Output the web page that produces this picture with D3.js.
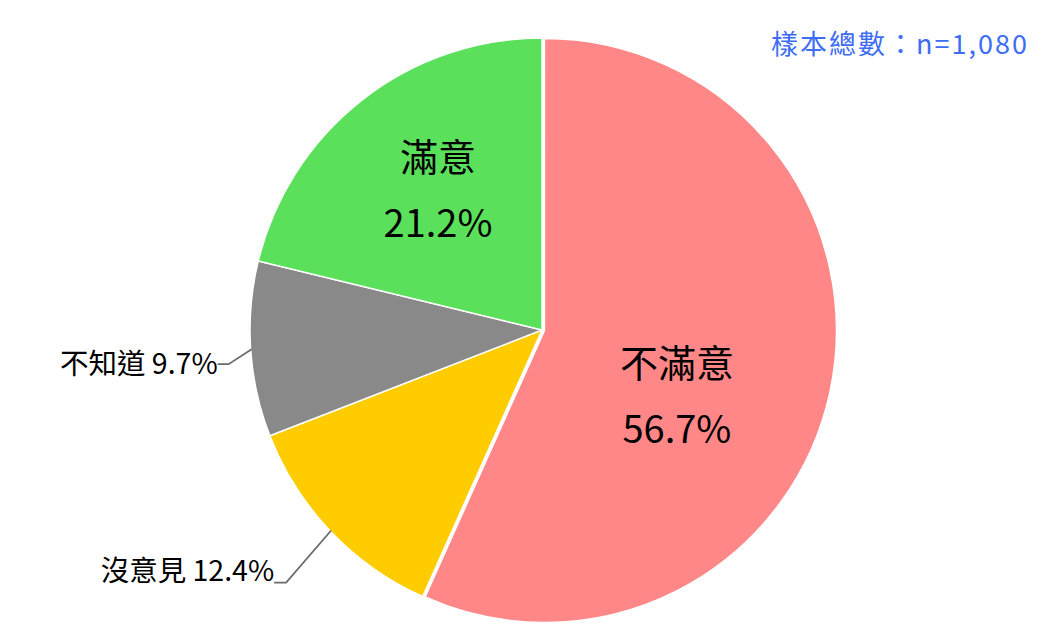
<!DOCTYPE html>
<html>
<head>
<meta charset="utf-8">
<script src="https://cdn.jsdelivr.net/npm/d3@7"></script>
<style>
  body { margin: 0; background: #fff; }
  svg { display: block; }
  text { font-family: "Noto Sans CJK TC", "Noto Sans", sans-serif; }
</style>
</head>
<body>
<div id="chart"></div>
<script>
// Data
const categories = ['不滿意', '沒意見', '不知道', '滿意'];
const values = [56.7, 12.4, 9.7, 21.2];
const colors = ['#ff8787', '#ffcc00', '#898989', '#5ae05a'];
const sampleNote = '樣本總數：n=1,080';

// Layout
let width = 1049,
    height = 644,
    cx = 542,
    cy = 330,
    radius = 292;

let data = categories.map(function (c, i) {
    return { name: c, value: values[i], color: colors[i] };
});

let svg = d3.select('#chart')
    .append('svg')
    .attr('width', width)
    .attr('height', height);

svg.append('rect')
    .attr('width', width)
    .attr('height', height)
    .attr('fill', '#fff');

let pie = d3.pie()
    .sort(null)
    .value(function (d) { return d.value; });

let arc = d3.arc()
    .innerRadius(0)
    .outerRadius(radius);

let arcs = pie(data);
let mid = function (d) { return (d.startAngle + d.endAngle) / 2; };

let g = svg.append('g')
    .attr('transform', 'translate(' + cx + ',' + cy + ')');

// slices, the big one is pulled out a little
g.selectAll('path.slice')
    .data(arcs)
    .enter()
    .append('path')
    .attr('class', 'slice')
    .attr('d', arc)
    .attr('fill', function (d) { return d.data.color; })
    .attr('stroke', '#fff')
    .attr('stroke-width', 1.5)
    .attr('transform', function (d) {
        if (d.index !== 0) return null;
        let p = d3.pointRadial(mid(d), 2.5);
        return 'translate(' + p[0] + ',' + p[1] + ')';
    });

// labels inside the slice (two lines)
let inside = {
    '不滿意': { k: 0.516, turn: 14.4 },
    '滿意': { k: 0.595, turn: 1.4 }
};

arcs.filter(function (d) { return inside[d.data.name]; }).forEach(function (d) {
    let o = inside[d.data.name];
    let p = d3.pointRadial(mid(d) + o.turn * Math.PI / 180, radius * o.k);
    let t = g.append('text')
        .attr('text-anchor', 'middle')
        .attr('font-size', 38)
        .attr('fill', '#000');
    t.append('tspan')
        .attr('x', p[0])
        .attr('y', p[1] - 33)
        .attr('dy', '0.35em')
        .text(d.data.name);
    t.append('tspan')
        .attr('x', p[0])
        .attr('y', p[1] + 33)
        .attr('dy', '0.35em')
        .text(d.data.value + '%');
});

// labels outside with leader lines
let outside = {
    '沒意見': { dx: -45, dy: 52, run: 12, lift: 12 },
    '不知道': { dx: -23, dy: 15, run: 11, lift: 0 }
};

arcs.filter(function (d) { return outside[d.data.name]; }).forEach(function (d) {
    let o = outside[d.data.name];
    let edge = d3.pointRadial(mid(d), radius - 1);
    let elbow = [edge[0] + o.dx, edge[1] + o.dy];
    let end = [elbow[0] - o.run, elbow[1]];

    g.append('polyline')
        .attr('points', [edge, elbow, end].map(function (p) { return p.join(','); }).join(' '))
        .attr('fill', 'none')
        .attr('stroke', '#6b6b6b')
        .attr('stroke-width', 1.8);

    g.append('text')
        .attr('x', end[0])
        .attr('y', end[1] - o.lift)
        .attr('dy', '0.35em')
        .attr('text-anchor', 'end')
        .attr('font-size', 28.5)
        .attr('fill', '#000')
        .text(d.data.name + ' ' + d.data.value + '%');
});

// sample size note
svg.append('text')
    .attr('x', 1029)
    .attr('y', 45)
    .attr('dy', '0.35em')
    .attr('text-anchor', 'end')
    .attr('font-size', 27)
    .attr('letter-spacing', 2)
    .attr('fill', '#3d6df5')
    .text(sampleNote);
</script>
</body>
</html>
